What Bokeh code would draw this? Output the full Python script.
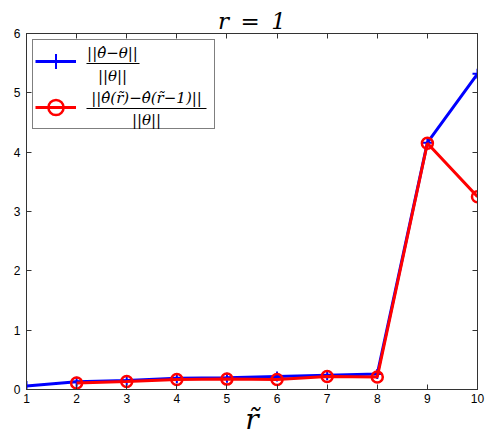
from bokeh.plotting import figure
from bokeh.models import Legend, LegendItem, Label, BoxAnnotation, FixedTicker, Range1d, LinearAxis
from bokeh.embed import file_html
from bokeh.resources import INLINE

# data
r_tilde = [1, 2, 3, 4, 5, 6, 7, 8, 9, 10]
err_rel = [0.06, 0.13, 0.15, 0.19, 0.20, 0.22, 0.24, 0.26, 4.16, 5.32]
r_tilde_diff = [2, 3, 4, 5, 6, 7, 8, 9, 10]
err_diff = [0.11, 0.135, 0.17, 0.175, 0.17, 0.22, 0.21, 4.15, 3.25]
x_ticks = [1, 2, 3, 4, 5, 6, 7, 8, 9, 10]
y_ticks = [0, 1, 2, 3, 4, 5, 6]
title_text = "r\u2002=\u20021"
xlabel_text = "r\u0303"
leg1_num = "||\u03b8\u0302\u2212\u03b8||"
leg1_den = "||\u03b8||"
leg2_num = "||\u03b8\u0302(r\u0303)\u2212\u03b8\u0302(r\u0303\u22121)||"
leg2_den = "||\u03b8||"

SERIF = "DejaVu Serif"
FL, FB = 26, 390  # frame left / bottom in canvas pixels (for converting label positions)

p = figure(width=492, height=438, output_backend="svg", toolbar_location=None,
           x_range=Range1d(1, 10), y_range=Range1d(0, 6),
           min_border_left=26, min_border_right=15, min_border_top=33, min_border_bottom=48)
p.grid.visible = False
p.outline_line_color = "#333333"
p.background_fill_color = "white"

p.title.text = title_text
p.title.text_font = SERIF
p.title.text_font_style = "italic"
p.title.text_font_size = "23px"
p.title.text_color = "black"
p.title.align = "center"
p.title.standoff = 0
p.title.offset = 0

for ax in [p.xaxis[0], p.yaxis[0]]:
    ax.major_tick_in = 5
    ax.major_tick_out = 0
    ax.minor_tick_line_color = None
    ax.axis_line_color = "#333333"
    ax.major_tick_line_color = "#333333"
    ax.major_label_text_font = "Liberation Sans"
    ax.major_label_text_font_size = "12px"
    ax.major_label_text_color = "black"
p.xaxis.ticker = FixedTicker(ticks=x_ticks)
p.yaxis.ticker = FixedTicker(ticks=y_ticks)
p.xaxis.major_label_standoff = 4
p.yaxis.major_label_standoff = 6
p.xaxis.axis_label = xlabel_text
p.xaxis.axis_label_text_font = SERIF
p.xaxis.axis_label_text_font_style = "italic"
p.xaxis.axis_label_text_font_size = "28px"
p.xaxis.axis_label_standoff = -3
p.xaxis.axis_label_text_color = "black"

top = LinearAxis(ticker=FixedTicker(ticks=x_ticks), major_label_text_font_size="0px",
                 major_label_standoff=0,
                 major_tick_in=5, major_tick_out=0, minor_tick_line_color=None,
                 axis_line_color="#333333", major_tick_line_color="#333333")
right = LinearAxis(ticker=FixedTicker(ticks=y_ticks), major_label_text_font_size="0px",
                   major_label_standoff=0,
                   major_tick_in=5, major_tick_out=0, minor_tick_line_color=None,
                   axis_line_color="#333333", major_tick_line_color="#333333")
p.add_layout(top, "above")
p.add_layout(right, "right")

l1 = p.line(r_tilde, err_rel, line_color="blue", line_width=3)
m1 = p.scatter(r_tilde, err_rel, marker="cross", size=10, line_color="blue", line_width=2)
l2 = p.line(r_tilde_diff, err_diff, line_color="red", line_width=3)
m2 = p.scatter(r_tilde_diff, err_diff, marker="circle", size=11, line_color="red",
               fill_color=None, line_width=2.5)

legend = Legend(items=[LegendItem(label=" ", renderers=[l1, m1]),
                       LegendItem(label=" ", renderers=[l2, m2])],
                location="top_left", margin=6, padding=2, spacing=8,
                glyph_width=41, glyph_height=38, label_width=132, label_standoff=4,
                border_line_color="black", border_line_width=1,
                background_fill_alpha=0)
p.add_layout(legend, "center")

def lab(x, y, t, size, style="normal", align="center", baseline="middle", font=SERIF):
    # x, y given in canvas pixels from top-left; converted to frame-relative screen units
    p.add_layout(Label(x=x - FL, y=FB - y, x_units="screen", y_units="screen", text=t,
                       text_font=font, text_font_style=style, text_font_size=size,
                       text_align=align, text_baseline=baseline, text_color="black"))

def bar(x0, x1, y):
    p.add_layout(BoxAnnotation(left=x0 - FL, right=x1 - FL, top=FB - y + 0.5, bottom=FB - y - 0.5,
                               left_units="screen", right_units="screen",
                               top_units="screen", bottom_units="screen",
                               fill_color="black", fill_alpha=1, line_color=None))

# legend texts
lab(112, 53, leg1_num, "15px", "italic")
lab(112, 76, leg1_den, "15px", "italic")
lab(146, 98, leg2_num, "15px", "italic")
lab(146, 120, leg2_den, "15px", "italic")
bar(86, 139, 64)
bar(86, 206, 109)

open("out.html", "w").write(file_html(p, INLINE))
